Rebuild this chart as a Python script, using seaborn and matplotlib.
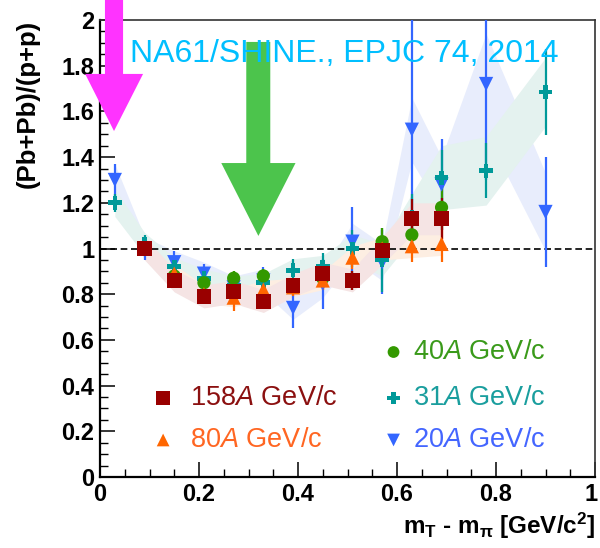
import numpy as np
import pandas as pd
import matplotlib
matplotlib.use("Agg")
import matplotlib.pyplot as plt
from matplotlib.patches import Polygon
import matplotlib.transforms as mtransforms
import seaborn as sns

# ---------------- data ----------------
x_all = [0.03, 0.09, 0.15, 0.21, 0.27, 0.33, 0.39, 0.45, 0.51, 0.57, 0.63, 0.69, 0.78, 0.90]
x_mid = [0.09, 0.15, 0.21, 0.27, 0.33, 0.39, 0.45, 0.51, 0.57, 0.63, 0.69]
x_80 = [0.15, 0.21, 0.27, 0.33, 0.39, 0.45, 0.51, 0.57, 0.63, 0.69]

y20 = [1.30, 1.00, 0.94, 0.89, 0.83, 0.86, 0.74, 0.845, 1.03, 0.94, 1.52, 1.28, 1.72, 1.16]
e20 = [0.07, 0.05, 0.05, 0.04, 0.04, 0.06, 0.09, 0.11, 0.15, 0.14, 0.52, 0.20, 0.42, 0.24]
s20 = [0.07, 0.05, 0.05, 0.05, 0.05, 0.05, 0.05, 0.06, 0.08, 0.08, 0.14, 0.12, 0.22, 0.17]

y31 = [1.20, 1.02, 0.92, 0.87, 0.84, 0.85, 0.905, 0.92, 1.00, 0.95, 1.14, 1.31, 1.34, 1.685]
e31 = [0.04, 0.04, 0.03, 0.03, 0.03, 0.04, 0.05, 0.06, 0.08, 0.14, 0.10, 0.12, 0.12, 0.19]
s31 = [0.06, 0.05, 0.04, 0.04, 0.04, 0.04, 0.05, 0.05, 0.06, 0.07, 0.10, 0.14, 0.15, 0.15]

y40 = [0.88, 0.85, 0.87, 0.88, 0.84, 0.87, 0.86, 1.03, 1.06, 1.18]
e40 = [0.03, 0.03, 0.03, 0.03, 0.03, 0.04, 0.04, 0.06, 0.07, 0.10]

y80 = [0.89, 0.80, 0.785, 0.82, 0.83, 0.86, 0.96, 1.00, 1.01, 1.02]
e80 = [0.03, 0.03, 0.06, 0.05, 0.04, 0.04, 0.05, 0.05, 0.07, 0.08]
s80 = [0.04, 0.04, 0.04, 0.04, 0.04, 0.04, 0.05, 0.05, 0.05, 0.05]

y158 = [1.00, 0.86, 0.79, 0.81, 0.77, 0.84, 0.89, 0.86, 0.99, 1.13, 1.13]
e158 = [0.02, 0.02, 0.02, 0.02, 0.02, 0.03, 0.03, 0.04, 0.05, 0.085, 0.09]
s158 = [0.05, 0.05, 0.05, 0.05, 0.05, 0.05, 0.05, 0.05, 0.06, 0.07, 0.07]

x_ticklabels = ["0", "0.2", "0.4", "0.6", "0.8", "1"]
y_ticklabels = ["0", "0.2", "0.4", "0.6", "0.8", "1", "1.2", "1.4", "1.6", "1.8", "2"]

colors = {"158": "#990000", "80": "#ff6600", "40": "#339900", "31": "#009999", "20": "#3366ff"}
text_colors = {"158": "#8b1010", "80": "#ff6622", "40": "#3a9a1a", "31": "#1a9e9e", "20": "#4466ff"}
band_colors = {"20": "#e8edfc", "31": "#e4f2ef", "80": "#fdeee2", "158": "#f5e4e4"}

series = {
    "20": (x_all, y20, e20, s20, "v", 105),
    "31": (x_all, y31, e31, s31, "P", 100),
    "40": (x_80, y40, e40, None, "o", 90),
    "80": (x_80, y80, e80, s80, "^", 105),
    "158": (x_mid, y158, e158, s158, "s", 115),
}

# ---------------- figure ----------------
sns.set_theme(style="white")
plt.rcParams["font.family"] = ["Liberation Sans", "DejaVu Sans"]
plt.rcParams["mathtext.fontset"] = "custom"
plt.rcParams["mathtext.rm"] = "Liberation Sans"
plt.rcParams["mathtext.it"] = "Liberation Sans:italic"
plt.rcParams["mathtext.bf"] = "Liberation Sans:bold"

fig = plt.figure(figsize=(6.0, 5.48), dpi=100)
ax = fig.add_axes([100 / 600, 1 - 477 / 548, 495 / 600, 457 / 548])

# bands (systematic)
for key, zb in [("20", 1.0), ("31", 1.1), ("80", 1.2), ("158", 1.3)]:
    xs, ys, es, ss, m, sz = series[key]
    ys = np.array(ys); ss = np.array(ss)
    ax.fill_between(xs, ys - ss, ys + ss, color=band_colors[key], lw=0, zorder=zb)

ax.axhline(1.0, color="black", lw=1.2, ls=(0, (4, 2.2)), zorder=2)

order = ["20", "31", "40", "80", "158"]
for i, key in enumerate(order):
    xs, ys, es, ss, m, sz = series[key]
    ax.errorbar(xs, ys, yerr=es, fmt="none", ecolor=colors[key], elinewidth=1.6,
                capsize=0, zorder=3 + i * 0.1)
    df = pd.DataFrame({"x": xs, "y": ys})
    sns.scatterplot(data=df, x="x", y="y", marker=m, s=sz, color=colors[key],
                    edgecolor="none", linewidth=0, ax=ax, legend=False, zorder=4 + i * 0.1)

ax.set_xlim(0, 1)
ax.set_ylim(0, 2)
ax.set_xlabel("")
ax.set_ylabel("")
ax.set_xticks(np.arange(0, 1.01, 0.2))
ax.set_xticklabels(x_ticklabels)
ax.set_yticks(np.arange(0, 2.01, 0.2))
ax.set_yticklabels(y_ticklabels)
ax.set_xticks(np.arange(0, 1.001, 0.05), minor=True)
ax.set_yticks(np.arange(0, 2.001, 0.05), minor=True)
ax.tick_params(axis="both", which="major", direction="in", length=11, width=1.1,
               color="black", labelsize=17, pad=4)
ax.tick_params(axis="both", which="minor", direction="in", length=5.5, width=1.0, color="black")
ax.tick_params(axis="x", which="both", top=False, bottom=True)
ax.tick_params(axis="y", which="both", right=False, left=True)
for lab in ax.get_xticklabels() + ax.get_yticklabels():
    lab.set_fontweight("bold")
    lab.set_color("black")
# keep the last x label ("1") inside the canvas
last = ax.get_xticklabels()[-1]
last.set_transform(last.get_transform() + mtransforms.ScaledTranslation(-4 / 100, 0, fig.dpi_scale_trans))

for side in ["left", "bottom"]:
    ax.spines[side].set_color("black")
    ax.spines[side].set_linewidth(1.6)
for side in ["top", "right"]:
    ax.spines[side].set_color("#333333")
    ax.spines[side].set_linewidth(1.2)

# legend (manual, ROOT style)
leg = [("158", 0.1275, 0.346, 0.182), ("80", 0.1275, 0.162, 0.182),
       ("40", 0.593, 0.547, 0.632), ("31", 0.593, 0.346, 0.632), ("20", 0.593, 0.162, 0.632)]
for key, mx, my, tx in leg:
    xs, ys, es, ss, m, sz = series[key]
    ax.scatter([mx], [my], marker=m, s=sz * 0.8, color=colors[key], edgecolors="none", zorder=6)
    ax.text(tx, my, key + r"$\mathit{A}$ GeV/c", color=text_colors[key], fontsize=19.5,
            va="center", ha="left", zorder=6)

# annotation text
ax.text(0.0607, 1.816, "NA61/SHINE., EPJC 74, 2014", color="#00bfff", fontsize=23,
        ha="left", va="baseline", zorder=8, clip_on=False)

# arrows
magenta = Polygon([(0.010, 2.10), (0.0466, 2.10), (0.0466, 1.764), (0.087, 1.764),
                   (0.0283, 1.514), (-0.030, 1.764), (0.010, 1.764)], closed=True,
                  facecolor="#ff33ff", edgecolor="none", zorder=9, clip_on=False)
ax.add_patch(magenta)
green = Polygon([(0.2955, 1.904), (0.344, 1.904), (0.344, 1.374), (0.395, 1.374),
                 (0.320, 1.055), (0.245, 1.374), (0.2955, 1.374)], closed=True,
                facecolor="#4cc44c", edgecolor="none", zorder=7, clip_on=False)
ax.add_patch(green)

# axis titles
fig.text(28 / 600, 1 - 20 / 548, "(Pb+Pb)/(p+p)", rotation=90, ha="center", va="top",
         fontsize=18.5, fontweight="bold", color="black")
fig.text(595 / 600, 1 - 526 / 548,
         r"m$_{\mathbf{T}}$ - m$_{\mathbf{\pi}}$ [GeV/c$^{\mathbf{2}}$]",
         ha="right", va="center", fontsize=17.5, fontweight="bold", color="black")

fig.savefig("out.png", dpi=100)
